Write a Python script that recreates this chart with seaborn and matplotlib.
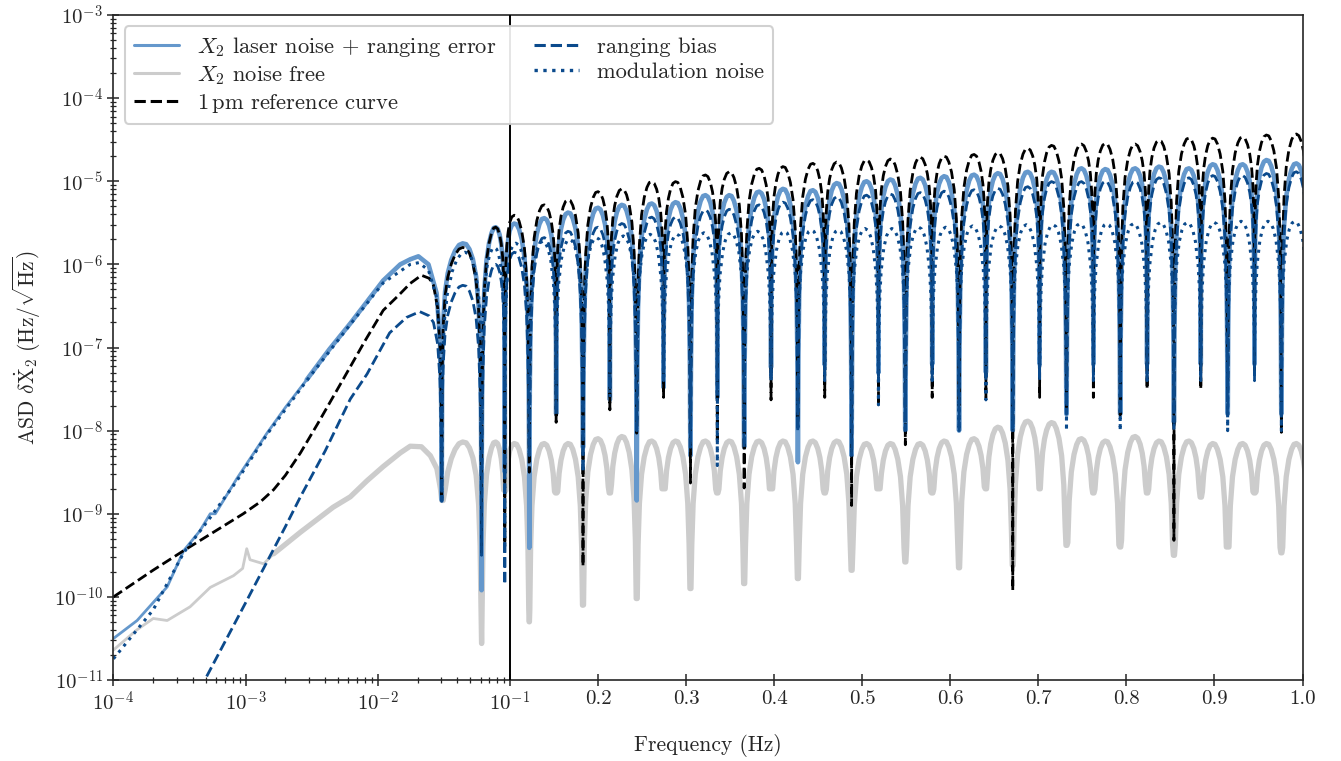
import numpy as np
import matplotlib
matplotlib.use("Agg")
import matplotlib.pyplot as plt
import seaborn as sns
from matplotlib.ticker import FixedLocator, FixedFormatter, NullFormatter
from matplotlib.lines import Line2D

# ---------------- data ----------------
NOTCH_SPACING = 0.0305          # Hz, spacing of the transfer-function zeros

# low-frequency part (below first zero), (Hz, ASD)
BLACK_LOW_F = [1e-4, 2e-4, 3.4e-4, 6e-4, 9.6e-4, 1.3e-3, 1.63e-3, 2.0e-3, 2.6e-3, 3.5e-3, 5.5e-3, 8e-3, 0.011, 0.0145, 0.0176, 0.0214, 0.0245, 0.0264, 0.0284, 0.0296, 0.0302]
BLACK_LOW_V = [1.0e-10, 2.1e-10, 3.6e-10, 6.3e-10, 1.0e-9, 1.4e-9, 1.95e-9, 2.9e-9, 5.4e-9, 1.2e-8, 4.2e-8, 1.2e-7, 2.8e-7, 4.3e-7, 5.9e-7, 7.4e-7, 6.8e-7, 5.6e-7, 3.0e-7, 1.0e-7, 2.0e-8]

LB_LOW_F = [1e-4, 1.51e-4, 2.55e-4, 3.4e-4, 4.5e-4, 5.4e-4, 5.9e-4, 8.6e-4, 1.45e-3, 2.0e-3, 2.9e-3, 4.3e-3, 6.2e-3, 0.011, 0.0148, 0.0176, 0.0203, 0.0242, 0.0279, 0.0296, 0.0302]
LB_LOW_V = [3.16e-11, 5.2e-11, 1.32e-10, 3.6e-10, 6.2e-10, 1.0e-9, 1.0e-9, 2.66e-9, 9.3e-9, 1.9e-8, 4.1e-8, 9.5e-8, 1.95e-7, 6.4e-7, 1.0e-6, 1.15e-6, 1.25e-6, 1.0e-6, 4.5e-7, 1.2e-7, 2.0e-8]

DOT_LOW_F = [1e-4, 2e-4, 3.4e-4, 5.4e-4, 8.6e-4, 1.45e-3, 2.9e-3, 6.2e-3, 0.011, 0.0176, 0.0205, 0.0242, 0.0279, 0.0296, 0.0302]
DOT_LOW_V = [1.8e-11, 7.0e-11, 3.4e-10, 9.0e-10, 2.5e-9, 9.0e-9, 4.0e-8, 1.9e-7, 6.0e-7, 1.0e-6, 1.05e-6, 8.5e-7, 4.0e-7, 1.1e-7, 2.0e-8]

DASH_LOW_F = [4.5e-4, 1e-3, 2e-3, 2.6e-3, 4e-3, 6.2e-3, 8.3e-3, 0.0123, 0.0165, 0.0208, 0.0245, 0.0264, 0.0284, 0.0296, 0.0302]
DASH_LOW_V = [7.7e-12, 8.5e-11, 7.0e-10, 1.6e-9, 5.7e-9, 2.4e-8, 4.8e-8, 1.5e-7, 2.3e-7, 2.7e-7, 2.4e-7, 2.0e-7, 1.1e-7, 4.0e-8, 1.0e-8]

GREY_LOW_F = [1e-4, 1.5e-4, 2.0e-4, 2.55e-4, 3.8e-4, 5.4e-4, 8.1e-4, 9.5e-4, 1.02e-3, 1.08e-3, 1.37e-3, 1.63e-3, 2.6e-3, 4.6e-3, 6.2e-3, 8.3e-3, 0.011, 0.0148, 0.0176, 0.0214, 0.025, 0.028, 0.0298]
GREY_LOW_V = [2.3e-11, 4.0e-11, 5.5e-11, 5.2e-11, 7.6e-11, 1.3e-10, 1.8e-10, 2.2e-10, 3.8e-10, 2.8e-10, 2.5e-10, 3.3e-10, 6.0e-10, 1.2e-9, 1.6e-9, 2.5e-9, 3.7e-9, 5.4e-9, 6.5e-9, 6.4e-9, 5.0e-9, 3.5e-9, 2.0e-9]

# arch maxima between consecutive zeros (arches 1..32)
BLACK_PEAKS = [1.6e-6, 2.8e-6, 3.9e-6, 5.2e-6, 6.0e-6, 7.5e-6, 8.1e-6, 9.9e-6, 9.9e-6, 1.19e-5, 1.3e-5, 1.43e-5, 1.5e-5, 1.64e-5, 1.7e-5, 1.8e-5,
               1.85e-5, 1.95e-5, 2.0e-5, 2.1e-5, 2.2e-5, 2.49e-5, 2.7e-5, 2.8e-5, 2.85e-5, 2.8e-5, 3.1e-5, 3.3e-5, 3.3e-5, 3.4e-5, 3.6e-5, 3.7e-5]
LB_PEAKS = [1.79e-6, 2.8e-6, 3.1e-6, 3.6e-6, 4.2e-6, 4.8e-6, 5.2e-6, 5.4e-6, 5.6e-6, 6.8e-6, 6.8e-6, 7.5e-6, 8.1e-6, 7.8e-6, 9.5e-6, 1.0e-5,
            1.05e-5, 1.1e-5, 1.15e-5, 1.2e-5, 1.25e-5, 1.3e-5, 1.3e-5, 1.43e-5, 1.4e-5, 1.43e-5, 1.5e-5, 1.43e-5, 1.6e-5, 1.6e-5, 1.8e-5, 1.64e-5]
DASH_PEAKS = [5.6e-7, 1.0e-6, 1.4e-6, 2.1e-6, 2.5e-6, 2.8e-6, 3.1e-6, 3.7e-6, 3.7e-6, 4.5e-6, 4.6e-6, 5.2e-6, 5.6e-6, 6.0e-6, 6.5e-6, 6.8e-6,
              7.0e-6, 7.3e-6, 7.6e-6, 7.9e-6, 8.2e-6, 8.6e-6, 9.9e-6, 9.9e-6, 1.0e-5, 1.0e-5, 1.1e-5, 1.1e-5, 1.17e-5, 1.17e-5, 1.24e-5, 1.3e-5]
DOT_PEAKS = [1.4e-6, 1.6e-6, 1.8e-6, 1.9e-6, 2.0e-6, 2.1e-6, 2.2e-6, 2.3e-6, 2.3e-6, 2.4e-6, 2.4e-6, 2.5e-6, 2.5e-6, 2.6e-6, 2.6e-6, 2.7e-6,
             2.7e-6, 2.8e-6, 2.8e-6, 2.9e-6, 2.9e-6, 3.0e-6, 3.0e-6, 3.1e-6, 3.1e-6, 3.1e-6, 3.2e-6, 3.2e-6, 3.2e-6, 3.3e-6, 3.3e-6, 3.3e-6]
GREY_PEAKS = [7.3e-9, 7.3e-9, 7.0e-9, 7.0e-9, 7.0e-9, 8.0e-9, 8.5e-9, 7.5e-9, 7.5e-9, 7.5e-9, 7.5e-9, 7.5e-9, 7.5e-9, 7.5e-9, 7.5e-9, 7.0e-9,
              7.0e-9, 7.0e-9, 7.5e-9, 8.0e-9, 1.1e-8, 1.3e-8, 1.25e-8, 8.0e-9, 7.5e-9, 8.5e-9, 7.5e-9, 7.5e-9, 7.0e-9, 7.0e-9, 7.0e-9, 7.0e-9]

# depth (log10 ASD) reached at each zero (zeros 1..32)
BLACK_NOTCH_LOG = [-8.87, -9.50, -9.39, -8.5, -7.9, -9.63, -7.75, -8.03, -7.6, -8.63, -8.11, -8.69, -7.63, -7.9, -7.6, -8.90,
                   -7.7, -8.17, -7.6, -7.7, -7.6, -9.92, -7.6, -7.78, -7.6, -7.81, -7.5, -9.32, -7.5, -7.51, -7.3, -8.02]
LB_NOTCH_LOG = [-8.84, -9.92, -8.5, -9.41, -7.8, -8.2, -7.63, -8.84, -7.48, -8.3, -7.6, -8.2, -7.24, -8.38, -7.21, -8.3,
                -7.3, -8.0, -7.2, -8.0, -7.3, -8.0, -7.2, -7.8, -7.2, -7.8, -7.2, -7.9, -7.2, -7.8, -7.2, -7.8]
DASH_NOTCH_LOG = [-8.85, -9.5, -9.85, -8.3, -7.8, -8.5, -7.5, -8.0, -7.4, -8.2, -7.5, -8.2, -7.4, -8.0, -7.4, -8.3,
                  -7.4, -8.0, -7.4, -8.0, -7.4, -8.0, -7.4, -7.8, -7.4, -7.8, -7.4, -7.9, -7.4, -7.8, -7.4, -7.8]
DOT_NOTCH_LOG = [-8.85, -8.5, -8.0, -8.3, -7.5, -8.0, -7.6, -8.0, -7.4, -8.0, -8.42, -8.0, -7.4, -8.0, -7.3, -8.0,
                 -7.69, -8.0, -7.39, -8.0, -7.63, -8.0, -7.27, -8.0, -7.09, -8.0, -7.37, -8.0, -7.09, -8.0, -6.91, -8.0]
GREY_NOTCH_LOG = [-8.84, -10.56, -8.72, -10.30, -8.75, -10.10, -8.75, -10.02, -8.7, -9.90, -8.75, -9.84, -8.7, -9.78, -8.75, -9.68,
                  -8.7, -9.58, -8.75, -9.65, -8.7, -9.62, -8.7, -9.38, -8.75, -9.40, -8.75, -9.50, -8.8, -9.40, -8.75, -9.47]

# arch profile: position between zeros (0 = double zero) and level below arch maximum (decades)
ARCH_T = [0.006, 0.02, 0.05, 0.1, 0.18, 0.28, 0.38, 0.47, 0.56, 0.65, 0.74, 0.82, 0.89, 0.94, 0.975, 0.993]
ARCH_OFF = [-3.0, -2.0, -1.25, -0.75, -0.4, -0.19, -0.07, -0.01, 0.0, -0.02, -0.09, -0.2, -0.36, -0.58, -0.95, -1.5]
DOT_T = [0.006, 0.02, 0.05, 0.1, 0.2, 0.3, 0.4, 0.5, 0.6, 0.7, 0.8, 0.9, 0.95, 0.98, 0.994]
DOT_OFF = [-1.75, -1.2, -0.81, -0.51, -0.23, -0.09, -0.02, 0.0, -0.02, -0.09, -0.23, -0.51, -0.81, -1.2, -1.75]

X_MAJOR = [1e-4, 1e-3, 1e-2, 1e-1, 0.2, 0.3, 0.4, 0.5, 0.6, 0.7, 0.8, 0.9, 1.0]
X_MAJOR_LABELS = [r'$10^{-4}$', r'$10^{-3}$', r'$10^{-2}$', r'$10^{-1}$', '0.2', '0.3', '0.4', '0.5', '0.6', '0.7', '0.8', '0.9', '1.0']
Y_EXPONENTS = [-11, -10, -9, -8, -7, -6, -5, -4, -3]

LEGEND_LABELS = [r'$X_2$ laser noise + ranging error', r'$X_2$ noise free', r'1$\,$pm reference curve',
                 'ranging bias', 'modulation noise']

C_LB = '#6598cc'
C_GREY = '#cccccc'
C_DARK = '#0b4a8c'


def build(low_f, low_v, peaks, notch_log, tpl_t, tpl_off, lean=True):
    fs = list(low_f)
    vs = list(low_v)
    n = len(peaks)
    notch_f = NOTCH_SPACING * np.arange(1, n + 2)
    depth = list(10.0 ** np.array(notch_log)) + [10.0 ** notch_log[-1]]
    fs.append(notch_f[0]); vs.append(depth[0])
    t0 = np.asarray(tpl_t); o0 = np.asarray(tpl_off)
    for j in range(1, n + 1):
        fa, fb = notch_f[j - 1], notch_f[j]
        tt, oo = t0, o0
        if lean and j % 2 == 1:
            tt = 1 - t0[::-1]; oo = o0[::-1]
        fv = fa + tt * (fb - fa)
        vv = peaks[j - 1] * 10.0 ** oo
        floor = np.where(tt < 0.5, depth[j - 1], depth[j])
        vv = np.maximum(vv, floor)
        fs += list(fv); vs += list(vv)
        fs.append(fb); vs.append(depth[j])
    return np.array(fs), np.array(vs)


f_black, v_black = build(BLACK_LOW_F, BLACK_LOW_V, BLACK_PEAKS, BLACK_NOTCH_LOG, ARCH_T, ARCH_OFF)
f_lb, v_lb = build(LB_LOW_F, LB_LOW_V, LB_PEAKS, LB_NOTCH_LOG, ARCH_T, ARCH_OFF)
f_dash, v_dash = build(DASH_LOW_F, DASH_LOW_V, DASH_PEAKS, DASH_NOTCH_LOG, ARCH_T, ARCH_OFF)
f_dot, v_dot = build(DOT_LOW_F, DOT_LOW_V, DOT_PEAKS, DOT_NOTCH_LOG, DOT_T, DOT_OFF, lean=False)
f_grey, v_grey = build(GREY_LOW_F, GREY_LOW_V, GREY_PEAKS, GREY_NOTCH_LOG, ARCH_T, ARCH_OFF)

# ---------------- styling ----------------
sns.set_style("ticks")
plt.rcParams.update({
    'font.family': 'serif',
    'font.serif': ['cmr10', 'DejaVu Serif'],
    'mathtext.fontset': 'cm',
    'axes.unicode_minus': False,
    'axes.formatter.use_mathtext': True,
    'font.size': 15,
})

fig = plt.figure(figsize=(13.41, 7.61), dpi=100)
ax = fig.add_axes([0.0846, 0.1064, 0.8867, 0.8739])

K = 6.664


def fwd(x):
    x = np.asarray(x, dtype=float)
    return np.where(x <= 0.1, np.log10(np.clip(x, 1e-300, None)), -1.0 + (x - 0.1) * K)


def inv(u):
    u = np.asarray(u, dtype=float)
    return np.where(u <= -1.0, np.power(10.0, np.minimum(u, -1.0)), 0.1 + (u + 1.0) / K)


ax.set_xscale('function', functions=(fwd, inv))
ax.set_yscale('log')

m_lb = f_lb >= 2.5e-3
m_grey = f_grey >= 1.5e-3

sns.lineplot(x=f_grey, y=v_grey, ax=ax, color=C_GREY, lw=2.0, sort=False, estimator=None, zorder=1.5)
sns.lineplot(x=f_grey[m_grey], y=v_grey[m_grey], ax=ax, color=C_GREY, lw=3.8, sort=False, estimator=None, zorder=1.5)
sns.lineplot(x=f_lb, y=v_lb, ax=ax, color=C_LB, lw=2.0, sort=False, estimator=None, zorder=2)
sns.lineplot(x=f_lb[m_lb], y=v_lb[m_lb], ax=ax, color=C_LB, lw=3.3, sort=False, estimator=None, zorder=2)
sns.lineplot(x=f_black, y=v_black, ax=ax, color='black', lw=2.0, linestyle='--', sort=False, estimator=None, zorder=2.1)
sns.lineplot(x=f_dash, y=v_dash, ax=ax, color=C_DARK, lw=2.0, linestyle='--', sort=False, estimator=None, zorder=2.2)
sns.lineplot(x=f_dot, y=v_dot, ax=ax, color=C_DARK, lw=2.2, linestyle=':', sort=False, estimator=None, zorder=2.3)

ax.axvline(0.1, color='black', lw=1.4, zorder=5)

ax.set_xlim(1e-4, 1.0)
ax.set_ylim(1e-11, 1e-3)

minor = [m * 10.0 ** e for e in (-4, -3, -2) for m in range(2, 10)]
ax.xaxis.set_major_locator(FixedLocator(X_MAJOR))
ax.xaxis.set_major_formatter(FixedFormatter(X_MAJOR_LABELS))
ax.xaxis.set_minor_locator(FixedLocator(minor))
ax.xaxis.set_minor_formatter(NullFormatter())

y_major = [10.0 ** e for e in Y_EXPONENTS]
y_minor = [m * 10.0 ** e for e in Y_EXPONENTS[:-1] for m in range(2, 10)]
ax.yaxis.set_major_locator(FixedLocator(y_major))
ax.yaxis.set_major_formatter(FixedFormatter([r'$10^{%d}$' % e for e in Y_EXPONENTS]))
ax.yaxis.set_minor_locator(FixedLocator(y_minor))
ax.yaxis.set_minor_formatter(NullFormatter())

ax.tick_params(which='major', direction='inout', length=8, width=1.1, labelsize=15, top=False, right=False)
ax.tick_params(which='minor', direction='inout', length=4.5, width=0.9, top=False, right=False)
for s in ax.spines.values():
    s.set_linewidth(1.2)
    s.set_visible(True)

ax.set_xlabel('Frequency (Hz)', fontsize=15.5, labelpad=14)
ax.set_ylabel(r'ASD $\delta\dot{\mathrm{X}}_2\ (\mathrm{Hz}/\sqrt{\mathrm{Hz}})$', fontsize=15.5, labelpad=8)

handles = [
    Line2D([], [], color=C_LB, lw=2.2),
    Line2D([], [], color=C_GREY, lw=2.2),
    Line2D([], [], color='black', lw=2.2, linestyle='--'),
    Line2D([], [], color=C_DARK, lw=2.2, linestyle='--'),
    Line2D([], [], color=C_DARK, lw=2.4, linestyle=':'),
]
leg = ax.legend(handles, LEGEND_LABELS, ncol=2, loc='upper left', fontsize=16.2, frameon=True,
                fancybox=True, framealpha=0.9, edgecolor='#cccccc', columnspacing=1.7,
                handlelength=2.0, labelspacing=0.22, borderpad=0.4)
leg.get_frame().set_linewidth(1.5)
leg.set_zorder(10)

fig.savefig('out.png', dpi=100)
